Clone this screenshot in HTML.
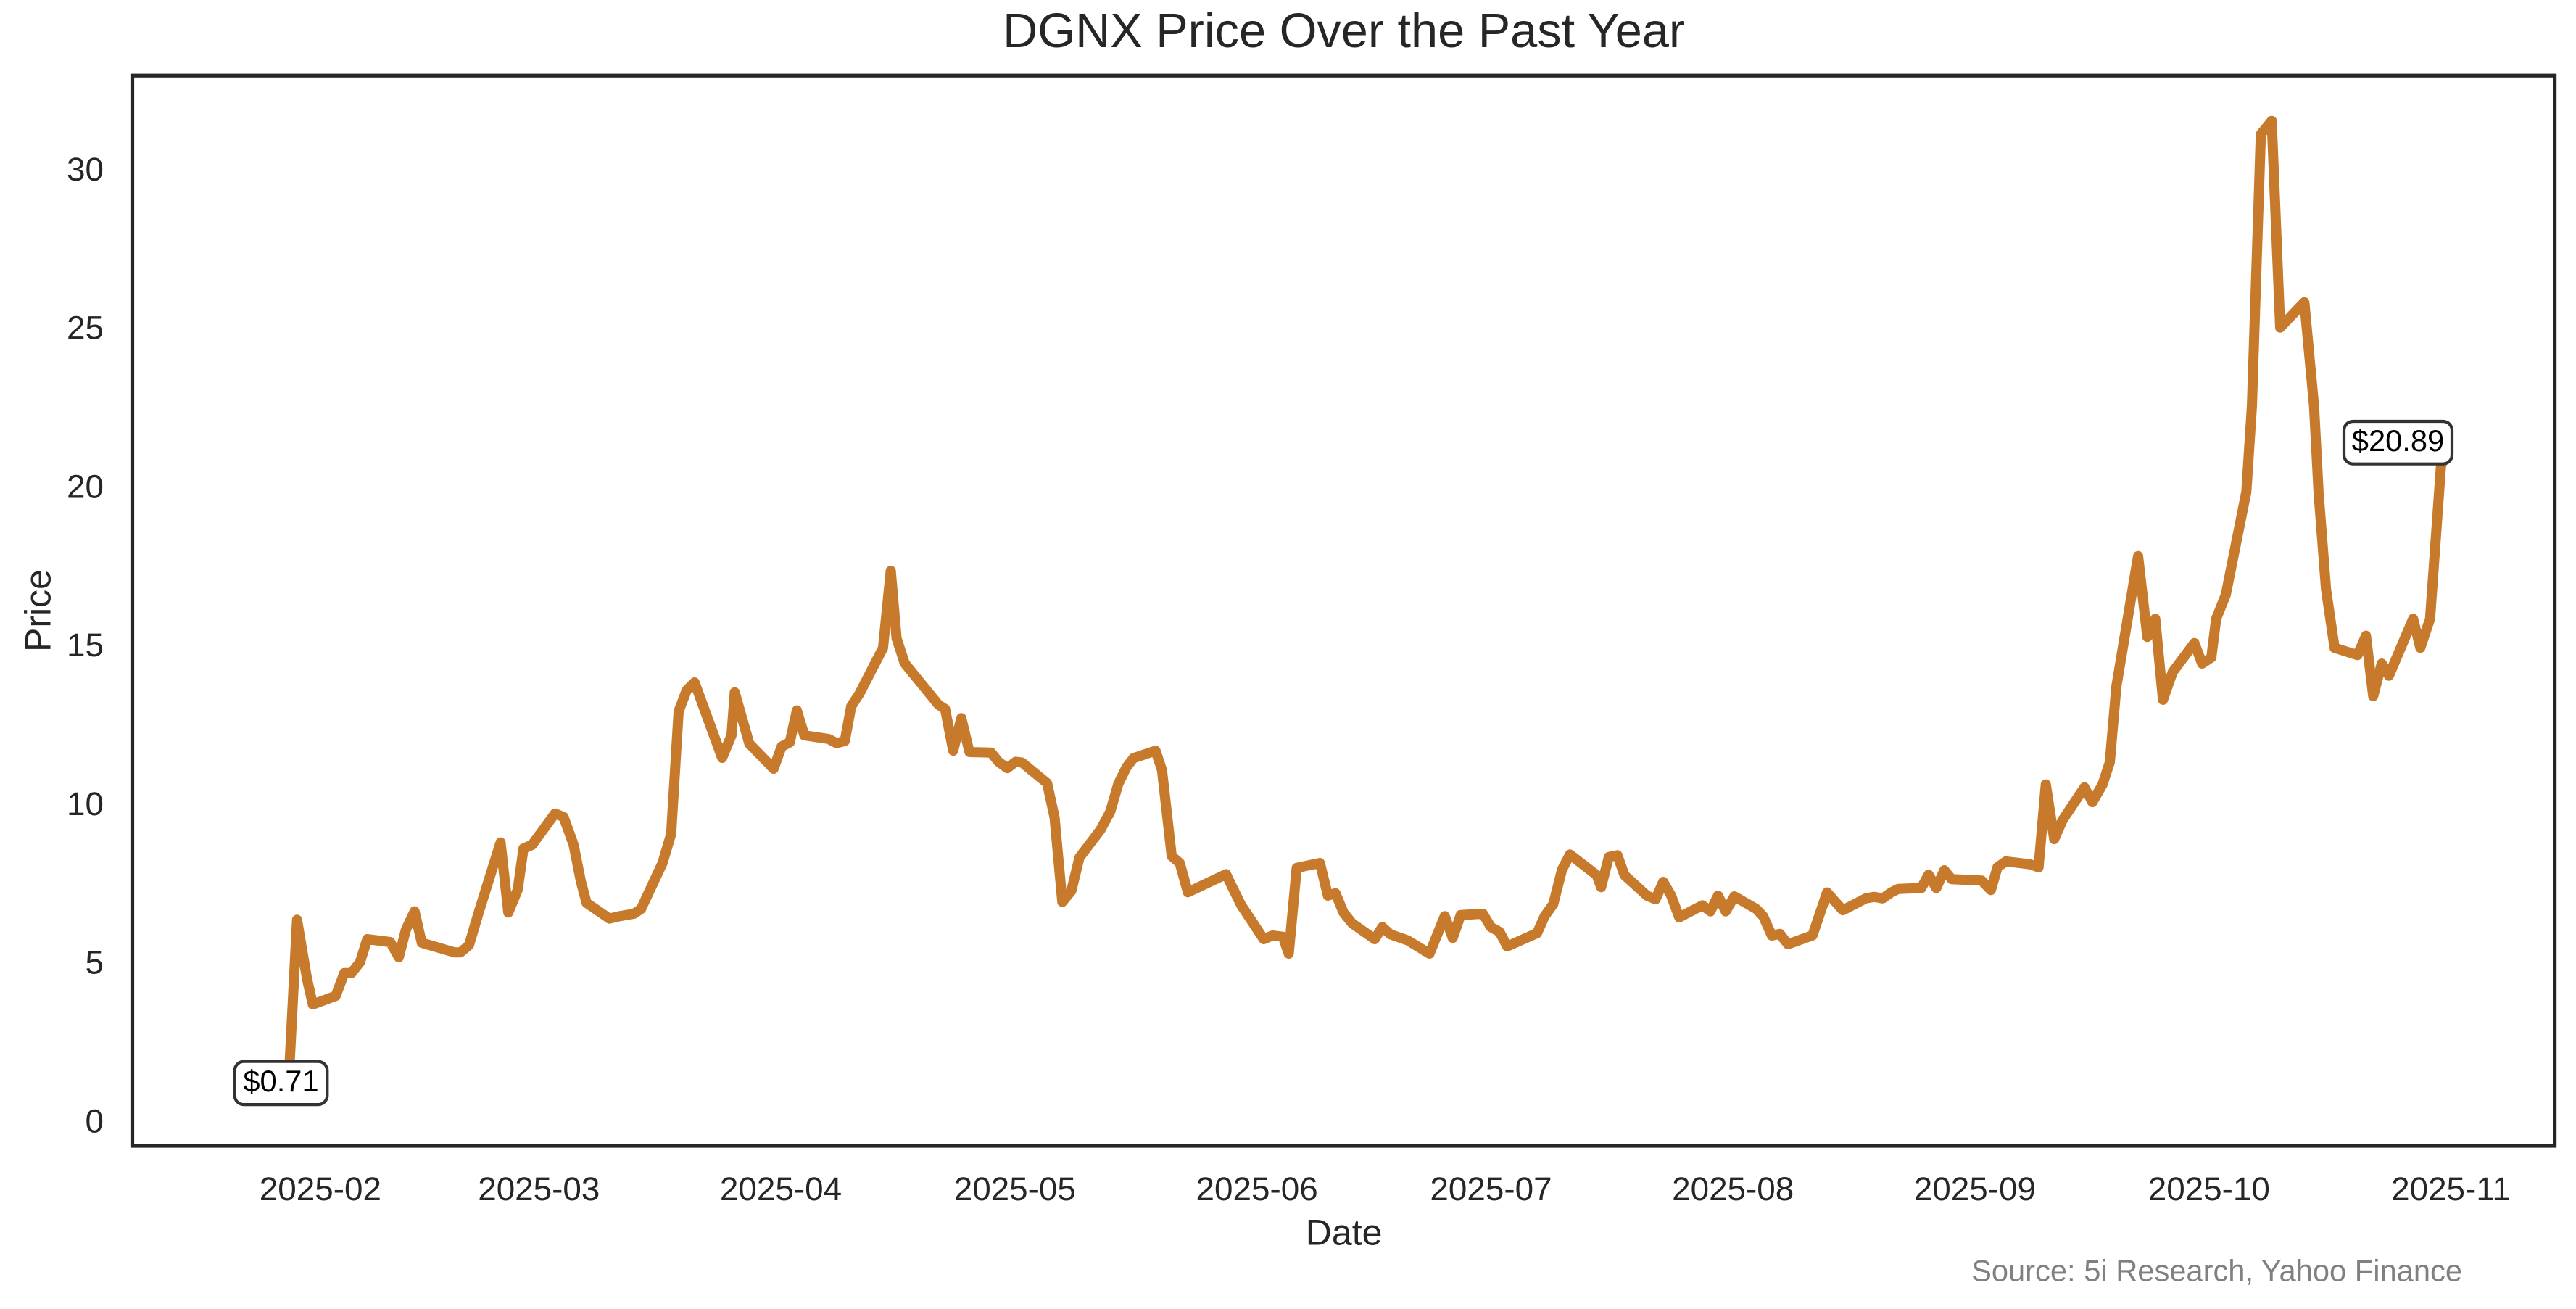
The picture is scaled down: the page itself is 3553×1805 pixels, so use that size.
<!DOCTYPE html>
<html>
<head>
<meta charset="utf-8">
<style>
  html, body { margin: 0; padding: 0; background: #ffffff; }
  svg { display: block; }
  text { font-family: "Liberation Sans", Arial, "DejaVu Sans", sans-serif; }
</style>
</head>
<body>
<svg width="3553" height="1805" viewBox="0 0 3553 1805" xmlns="http://www.w3.org/2000/svg">
  <rect x="0" y="0" width="3553" height="1805" fill="#ffffff"/>
  <defs>
    <clipPath id="axclip">
      <rect x="182.5" y="104.2" width="3341.1" height="1475.8"/>
    </clipPath>
  </defs>

  <!-- Title -->
  <text x="1853.6" y="65" font-size="66.67" fill="#262626" text-anchor="middle">DGNX Price Over the Past Year</text>

  <!-- Price line -->
  <polyline clip-path="url(#axclip)" fill="none" stroke="#c77a2b" stroke-width="14" stroke-linejoin="round" stroke-linecap="butt"
    points="
397,1514 409.7,1268.3 423.5,1350 431.4,1385 463,1373.3 474.9,1341.7 484.8,1341.7 496.6,1326.7 506.5,1295 538.2,1299 550,1320 559.9,1281.7 571.8,1256.7 581.7,1300 627.1,1313.3 635,1313.3 646.9,1303.3 660.7,1256.7 690.4,1161.7 701.1,1258.3 714.1,1226.7 722,1170 733.9,1165 765.5,1121.7 777.4,1126.7 791.2,1165 801.1,1215 809,1245 840.6,1266.7 854.5,1263.3 874.3,1260 884.2,1253.3 913.8,1190 925.7,1150
936,981 947,952 958,941 996,1045
1008.9,1014 1013.4,954.7 1033.5,1025.5 1067,1060 1078.1,1029.4 1089.3,1023.6 1099.1,979.6 1109.4,1014 1142.9,1019 1154,1024.8 1165.2,1021.7 1174.1,973.9 1185.3,956.7 1217.9,893.5 1228.6,787.1 1236.6,880.1 1247.8,914.6 1294.6,972 1303.6,977.7 1314.7,1035.1 1325.9,990.3 1337.1,1037 1367,1037.8 1377.2,1050.4 1389.3,1059.2 1400.9,1050.4 1409.8,1051.6 1444.2,1079.9 1454.5,1127 1465.2,1243.7 1477.7,1228.4 1488.8,1182.5 1517.9,1144.2 1531.3,1119.3 1542.4,1081 1553.6,1058.1 1563.4,1045.4 1593.8,1035.1 1602.7,1061.9 1616.1,1180.5 1627.2,1190.1 1638.4,1230.3 1691.1,1205.4
1700,1224 1712,1248.3 1743,1295 1755,1290 1769.4,1291.7 1777.5,1315 1788.5,1196.7 1820.5,1190 1831.5,1235 1842,1231.7 1853,1258.3 1865,1273.3 1896.1,1295 1906.6,1278.3 1917.6,1288.3 1941.5,1296.7 1971.7,1315 1992.7,1263.3 2003.7,1293.3 2014.7,1261.7 2045.3,1260 2056.3,1278.3 2068.3,1285 2078.8,1305 2120,1286.7 2130.5,1263.3 2142.4,1246.7 2154.4,1199.3 2165.4,1178.3 2202.2,1206.7 2208.4,1223.3 2219,1181.7 2230.9,1179.3 2240.5,1206.7 2271.6,1235 2283.5,1240 2294,1216 2305,1235 2316.1,1265 2348.1,1248.3 2359.1,1256.7 2369.6,1235 2380.2,1256.7 2392.1,1236 2422.3,1253.3 2431.8,1263.3 2443.8,1290
2455,1287.8 2466,1302 2500,1289.8 2520,1230.6 2541.7,1255.1 2573.3,1238.8 2585,1236.7 2596.7,1238.8 2608.3,1230.6 2618.3,1225.7 2650,1224.5 2660,1206.1 2670.7,1224.5 2681.7,1200 2691.7,1212.2 2733.3,1214.3 2746,1227.3 2755,1195.9 2766.7,1187.8 2800,1191.8 2811.7,1195.9 2821.7,1081.6 2833.3,1157.1 2845,1130.6 2875,1085.7 2886,1106.1 2900,1081.6 2910,1051 2919,946.9 2949,766.7
2961.7,878.3 2972.7,853.3 2983.3,965 2996.7,926.7 3026.7,886.7 3037.3,915 3050,906.7 3056.7,853.3 3070,820 3098.3,678.3 3106,560 3118.3,185 3133.3,166.7 3145,451.7 3178.3,416.7 3191.7,560 3198,680 3208.3,813.3 3220,893.3 3251.7,903.3 3263.3,876.7 3273.3,960 3285,915 3295,931.7 3328.3,853.3 3338.3,893.3 3351.7,853.3 3366.7,643.3 3370,631
"/>

  <!-- Axes frame -->
  <rect x="182.5" y="104.2" width="3341.1" height="1475.8" fill="none" stroke="#262626" stroke-width="5.2"/>

  <!-- Y tick labels -->
  <g font-size="45.83" fill="#262626" text-anchor="end">
    <text x="143" y="1561.3">0</text>
    <text x="143" y="1342.5">5</text>
    <text x="143" y="1123.8">10</text>
    <text x="143" y="905">15</text>
    <text x="143" y="686.3">20</text>
    <text x="143" y="467.5">25</text>
    <text x="143" y="248.8">30</text>
  </g>

  <!-- X tick labels -->
  <g font-size="45.83" fill="#262626" text-anchor="middle">
    <text x="441.9" y="1655">2025-02</text>
    <text x="743.3" y="1655">2025-03</text>
    <text x="1077" y="1655">2025-04</text>
    <text x="1399.8" y="1655">2025-05</text>
    <text x="1733.6" y="1655">2025-06</text>
    <text x="2056.5" y="1655">2025-07</text>
    <text x="2390.2" y="1655">2025-08</text>
    <text x="2723.9" y="1655">2025-09</text>
    <text x="3046.8" y="1655">2025-10</text>
    <text x="3380.5" y="1655">2025-11</text>
  </g>

  <!-- Axis labels -->
  <text x="1853.6" y="1716.7" font-size="50" fill="#262626" text-anchor="middle">Date</text>
  <text transform="translate(69.5,842) rotate(-90)" font-size="50" fill="#262626" text-anchor="middle">Price</text>

  <!-- Annotations -->
  <rect x="323.7" y="1463.7" width="127.6" height="59.4" rx="12.5" ry="12.5" fill="#ffffff" stroke="#333333" stroke-width="4.2"/>
  <text x="387.5" y="1505" font-size="41.67" fill="#000000" text-anchor="middle">$0.71</text>

  <rect x="3233" y="581" width="149" height="58.7" rx="12.5" ry="12.5" fill="#ffffff" stroke="#333333" stroke-width="4.2"/>
  <text x="3307.5" y="622" font-size="41.67" fill="#000000" text-anchor="middle">$20.89</text>

  <!-- Source -->
  <text x="3396" y="1766.7" font-size="41.67" fill="#808080" text-anchor="end">Source: 5i Research, Yahoo Finance</text>
</svg>
</body>
</html>
